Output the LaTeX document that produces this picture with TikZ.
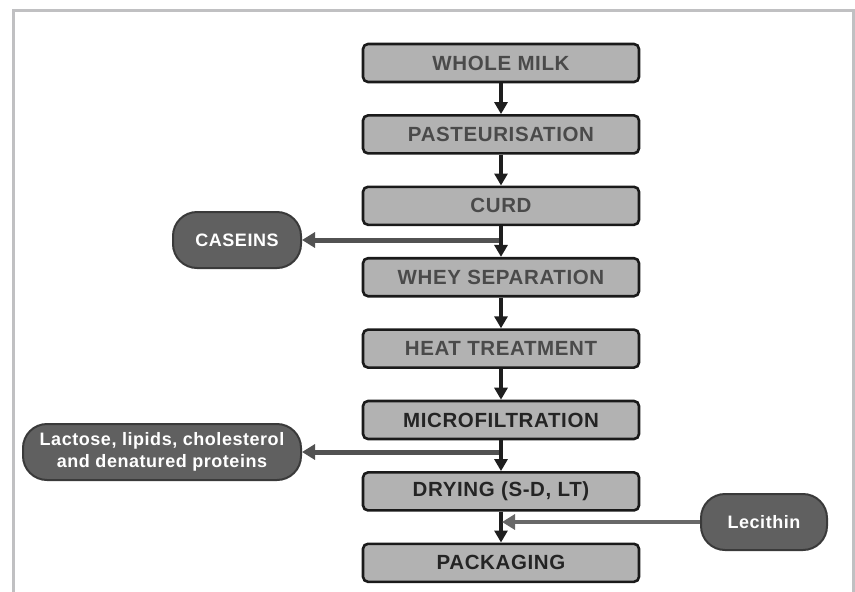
\documentclass[tikz,border=0pt]{standalone}
\usepackage{fontspec}
\setmainfont{Liberation Sans}
\newfontfamily\flowfont[LetterSpace=3]{Liberation Sans}
\usepackage{tikz}
\usetikzlibrary{positioning, arrows.meta}
\definecolor{framegray}{RGB}{192,192,194}
\definecolor{boxfill}{RGB}{178,178,178}
\definecolor{boxline}{RGB}{26,26,26}
\definecolor{boxtext}{RGB}{74,74,74}
\definecolor{boxtextdark}{RGB}{36,36,36}
\definecolor{sidefill}{RGB}{96,96,96}
\definecolor{sideline}{RGB}{58,58,58}
\definecolor{flowdark}{RGB}{30,30,30}
\definecolor{outgray}{RGB}{82,82,82}
\definecolor{ingray}{RGB}{104,104,104}
\tikzset{
  stepbox/.style={
    draw=boxline, rounded corners=5pt, line width=2.6pt,
    fill=boxfill, text=boxtext, font=\flowfont\fontsize{20.5}{22}\selectfont\bfseries,
    minimum width=276pt, minimum height=38pt, align=center, inner sep=3pt
  },
  stepboxdark/.style={
    stepbox, text=boxtextdark
  },
  product/.style={
    draw=sideline, fill=sidefill, rounded corners=24pt, line width=2pt,
    text=white, font=\flowfont\fontsize{18}{22}\selectfont\bfseries,
    minimum height=56pt, align=center, inner sep=5pt
  },
  flow/.style={-{Triangle[length=12pt, width=13pt]}, line width=4pt, flowdark},
  outflow/.style={-{Triangle[length=13pt, width=15pt]}, line width=5pt, outgray},
  inflow/.style={-{Triangle[length=13pt, width=15pt]}, line width=4pt, ingray}
}

\begin{document}
\begin{tikzpicture}[x=1pt, y=-1pt, node distance=30.8pt]
  % frame, open at the bottom
  \useasboundingbox (0,0) rectangle (855,592);
  \draw[framegray, line width=3pt] (13,600) -- (13,10) -- (853,10) -- (853,600);

  \node[stepbox] (milk) at (501,63) {WHOLE MILK};
  \node[stepbox, below=of milk] (past) {PASTEURISATION};
  \node[stepbox, below=of past] (curd) {CURD};
  \node[stepbox, below=of curd] (whey) {WHEY SEPARATION};
  \node[stepbox, below=of whey] (heat) {HEAT TREATMENT};
  \node[stepboxdark, below=of heat] (micro) {MICROFILTRATION};
  \node[stepboxdark, below=of micro] (dry) {DRYING (S-D, LT)};
  \node[stepboxdark, below=of dry] (pack) {PACKAGING};

  % branch points on the main line
  \coordinate (j1) at (501,240);
  \coordinate (j2) at (501,452);
  \coordinate (j3) at (501,522);

  \node[product, minimum width=128pt, left=199pt of j1] (caseins) {CASEINS};
  \node[product, minimum width=278pt, left=199pt of j2] (waste) {Lactose, lipids, cholesterol\\and denatured proteins};
  \node[product, minimum width=126pt, right=199pt of j3] (lecithin) {Lecithin};

  \draw[outflow] (j1) -- (caseins);
  \draw[outflow] (j2) -- (waste);

  \draw[flow] (milk) -- (past);
  \draw[flow] (past) -- (curd);
  \draw[flow] (curd) -- (whey);
  \draw[flow] (whey) -- (heat);
  \draw[flow] (heat) -- (micro);
  \draw[flow] (micro) -- (dry);
  \draw[flow] (dry) -- (pack);

  \draw[inflow] (lecithin) -- ([xshift=1pt]j3);
\end{tikzpicture}
\end{document}
